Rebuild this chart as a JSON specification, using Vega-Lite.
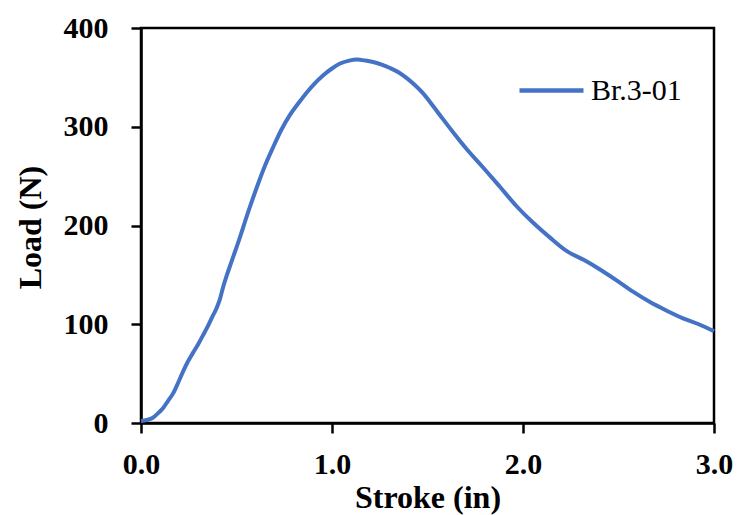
{
  "$schema": "https://vega.github.io/schema/vega-lite/v6.json",
  "autosize": "none",
  "width": 573,
  "height": 395,
  "padding": {"left": 141, "top": 28, "right": 23, "bottom": 92},
  "background": "white",
  "config": {
    "view": {"stroke": "black", "strokeWidth": 2.5},
    "font": "Liberation Serif"
  },
  "data": {
    "values": [
      {"s": 0.0, "load": 2, "series": "Br.3-01"},
      {"s": 0.03, "load": 3, "series": "Br.3-01"},
      {"s": 0.06, "load": 5, "series": "Br.3-01"},
      {"s": 0.09, "load": 10, "series": "Br.3-01"},
      {"s": 0.115, "load": 15, "series": "Br.3-01"},
      {"s": 0.14, "load": 22, "series": "Br.3-01"},
      {"s": 0.168, "load": 30, "series": "Br.3-01"},
      {"s": 0.195, "load": 41, "series": "Br.3-01"},
      {"s": 0.22, "load": 52, "series": "Br.3-01"},
      {"s": 0.245, "load": 62, "series": "Br.3-01"},
      {"s": 0.272, "load": 71, "series": "Br.3-01"},
      {"s": 0.3, "load": 80, "series": "Br.3-01"},
      {"s": 0.325, "load": 89, "series": "Br.3-01"},
      {"s": 0.35, "load": 98, "series": "Br.3-01"},
      {"s": 0.372, "load": 107, "series": "Br.3-01"},
      {"s": 0.395, "load": 116, "series": "Br.3-01"},
      {"s": 0.414, "load": 126, "series": "Br.3-01"},
      {"s": 0.429, "load": 137, "series": "Br.3-01"},
      {"s": 0.45, "load": 150, "series": "Br.3-01"},
      {"s": 0.475, "load": 164, "series": "Br.3-01"},
      {"s": 0.518, "load": 188, "series": "Br.3-01"},
      {"s": 0.56, "load": 213, "series": "Br.3-01"},
      {"s": 0.607, "load": 239, "series": "Br.3-01"},
      {"s": 0.65, "load": 261, "series": "Br.3-01"},
      {"s": 0.691, "load": 279, "series": "Br.3-01"},
      {"s": 0.735, "load": 297, "series": "Br.3-01"},
      {"s": 0.78, "load": 312, "series": "Br.3-01"},
      {"s": 0.825, "load": 324, "series": "Br.3-01"},
      {"s": 0.869, "load": 335, "series": "Br.3-01"},
      {"s": 0.91, "load": 344, "series": "Br.3-01"},
      {"s": 0.953, "load": 352, "series": "Br.3-01"},
      {"s": 1.0, "load": 359, "series": "Br.3-01"},
      {"s": 1.042, "load": 364, "series": "Br.3-01"},
      {"s": 1.09, "load": 367, "series": "Br.3-01"},
      {"s": 1.131, "load": 368, "series": "Br.3-01"},
      {"s": 1.175, "load": 367, "series": "Br.3-01"},
      {"s": 1.215, "load": 365.5, "series": "Br.3-01"},
      {"s": 1.26, "load": 363, "series": "Br.3-01"},
      {"s": 1.304, "load": 359.5, "series": "Br.3-01"},
      {"s": 1.35, "load": 355, "series": "Br.3-01"},
      {"s": 1.393, "load": 349, "series": "Br.3-01"},
      {"s": 1.435, "load": 342, "series": "Br.3-01"},
      {"s": 1.476, "load": 334, "series": "Br.3-01"},
      {"s": 1.529, "load": 321, "series": "Br.3-01"},
      {"s": 1.58, "load": 308, "series": "Br.3-01"},
      {"s": 1.64, "load": 293, "series": "Br.3-01"},
      {"s": 1.707, "load": 277, "series": "Br.3-01"},
      {"s": 1.79, "load": 259, "series": "Br.3-01"},
      {"s": 1.88, "load": 239, "series": "Br.3-01"},
      {"s": 1.969, "load": 219, "series": "Br.3-01"},
      {"s": 2.052, "load": 203, "series": "Br.3-01"},
      {"s": 2.14, "load": 188, "series": "Br.3-01"},
      {"s": 2.23, "load": 174, "series": "Br.3-01"},
      {"s": 2.32, "load": 165, "series": "Br.3-01"},
      {"s": 2.403, "load": 155.5, "series": "Br.3-01"},
      {"s": 2.49, "load": 144.5, "series": "Br.3-01"},
      {"s": 2.576, "load": 133, "series": "Br.3-01"},
      {"s": 2.665, "load": 122.5, "series": "Br.3-01"},
      {"s": 2.75, "load": 114, "series": "Br.3-01"},
      {"s": 2.838, "load": 106, "series": "Br.3-01"},
      {"s": 2.92, "load": 100, "series": "Br.3-01"},
      {"s": 3.0, "load": 93, "series": "Br.3-01"}
    ]
  },
  "mark": {"type": "line", "strokeWidth": 4, "interpolate": "monotone"},
  "encoding": {
    "x": {
      "field": "s", "type": "quantitative",
      "scale": {"domain": [0, 3], "nice": false},
      "axis": {
        "title": "Stroke (in)", "values": [0, 1, 2, 3], "format": ".1f",
        "grid": false, "domainColor": "black", "domainWidth": 2.5,
        "tickColor": "black", "tickWidth": 2.5, "tickSize": 10,
        "labelFont": "Liberation Serif", "labelFontSize": 30, "labelFontWeight": "bold", "labelColor": "black",
        "labelPadding": 16, "labelFlush": false,
        "titleFont": "Liberation Serif", "titleFontSize": 32, "titleFontWeight": "bold", "titleColor": "black",
        "titleBaseline": "middle", "titleY": 74
      }
    },
    "y": {
      "field": "load", "type": "quantitative",
      "scale": {"domain": [0, 400], "nice": false},
      "axis": {
        "title": "Load (N)", "values": [0, 100, 200, 300, 400],
        "grid": false, "domainColor": "black", "domainWidth": 2.5,
        "tickColor": "black", "tickWidth": 2.5, "tickSize": 10,
        "labelFont": "Liberation Serif", "labelFontSize": 30, "labelFontWeight": "bold", "labelColor": "black",
        "labelPadding": 23,
        "titleFont": "Liberation Serif", "titleFontSize": 32, "titleFontWeight": "bold", "titleColor": "black",
        "titleBaseline": "middle", "titleX": -111, "titleY": 199
      }
    },
    "color": {
      "field": "series", "type": "nominal",
      "scale": {"range": ["#4472C4"]},
      "legend": {
        "title": null, "orient": "none", "legendX": 376, "legendY": 28,
        "symbolType": "stroke", "symbolSize": 4096, "symbolStrokeWidth": 4.5,
        "labelFont": "Liberation Serif", "labelFontSize": 30, "labelColor": "black",
        "labelOffset": 5, "labelLimit": 300
      }
    }
  }
}
